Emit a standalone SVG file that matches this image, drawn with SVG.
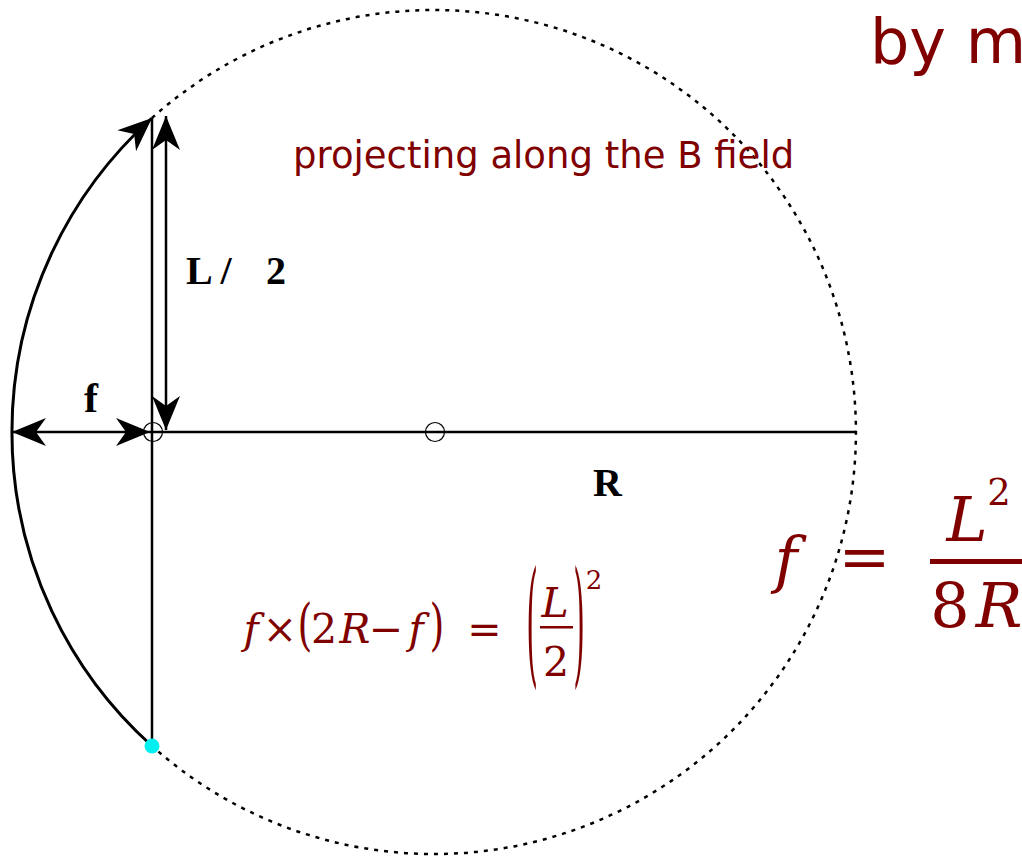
<svg xmlns="http://www.w3.org/2000/svg" width="1022" height="856" viewBox="0 0 1022 856">
<style>
  .ln{fill:none;stroke:#000;stroke-width:2.5}
  .dot{fill:none;stroke:#000;stroke-width:2.5;stroke-dasharray:4 6}
  .pt{fill:none;stroke:#000;stroke-width:1.2}
  .lbl{font-family:"Liberation Serif","Times New Roman",serif;font-weight:bold;fill:#000}
  .red{fill:#800000}
  .sans{font-family:"DejaVu Sans",sans-serif}
  .math{font-family:"DejaVu Serif",serif}
  .it{font-style:italic}
</style>
<defs>
  <marker id="ah" viewBox="-36 -16 38 32" refX="0" refY="0" markerWidth="38" markerHeight="32" markerUnits="userSpaceOnUse" orient="auto-start-reverse">
    <path d="M0,0 L-34,-14 L-24,0 L-34,14 Z" fill="#000"/>
  </marker>
</defs>
<rect width="1022" height="856" fill="#fff"/>

<g id="circle">
  <path class="dot" d="M152,118 A422,422 0 1 1 152,746"/>
</g>

<g id="connectors">
  <path id="arc" d="M152,746 A422,422 0 0 1 152,118" fill="none" stroke="#000" stroke-width="3" marker-end="url(#ah)"/>
  <line id="chord" class="ln" x1="152" y1="118" x2="152" y2="746"/>
  <line id="radius-axis" class="ln" x1="150" y1="432" x2="856" y2="432"/>
  <line id="f-arrow" class="ln" x1="12" y1="432" x2="150" y2="432" marker-start="url(#ah)" marker-end="url(#ah)"/>
  <line id="half-L-arrow" class="ln" x1="166" y1="116" x2="166" y2="430" marker-start="url(#ah)" marker-end="url(#ah)"/>
</g>

<g id="points">
  <circle class="pt" cx="153" cy="432" r="9.5"/>
  <circle class="pt" cx="435" cy="432" r="9.5"/>
  <circle cx="152" cy="746" r="7.5" fill="#00f0f0"/>
</g>

<g id="labels">
  <text class="lbl" x="186" y="284" font-size="40">L /<tspan x="266">2</tspan></text>
  <text class="lbl" x="84" y="412" font-size="42">f</text>
  <text class="lbl" x="593" y="496" font-size="40">R</text>
</g>

<g id="titles" class="red sans">
  <text x="293" y="168" font-size="37">projecting along the B field</text>
  <text x="870" y="63" font-size="62">by m</text>
</g>

<g id="formula-left" class="red math" font-size="41" text-anchor="middle">
  <text class="it" x="251" y="643">f</text>
  <text x="280" y="643">×</text>
  <text transform="translate(305,644) scale(1,1.45)" x="0" y="0" font-size="38">(</text>
  <text x="324" y="643">2</text>
  <text class="it" x="355" y="643">R</text>
  <text x="386" y="643">−</text>
  <text class="it" x="416" y="643">f</text>
  <text transform="translate(437,644) scale(1,1.45)" x="0" y="0" font-size="38">)</text>
  <text x="484.5" y="643">=</text>
  <text transform="translate(532,669) scale(1,4.57)" x="0" y="0" font-size="30">(</text>
  <text class="it" x="555" y="617">L</text>
  <rect x="540" y="626" width="33" height="2.5"/>
  <text x="556" y="676">2</text>
  <text transform="translate(579,669) scale(1,4.57)" x="0" y="0" font-size="30">)</text>
  <text x="594" y="589" font-size="26">2</text>
</g>

<g id="formula-right" class="red math" font-size="62" text-anchor="middle">
  <text class="it" x="786" y="581">f</text>
  <text x="864.5" y="578">=</text>
  <text class="it" x="967" y="541">L</text>
  <text x="999" y="505" font-size="37">2</text>
  <rect x="930" y="559" width="92" height="5"/>
  <text x="950" y="627">8</text>
  <text class="it" x="999" y="627">R</text>
</g>
</svg>
